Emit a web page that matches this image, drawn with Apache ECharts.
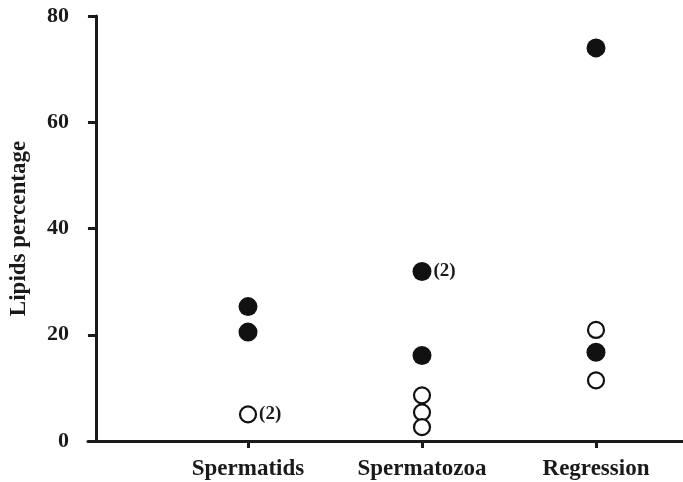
<!DOCTYPE html>
<html>
<head>
<meta charset="utf-8">
<script src="https://cdn.jsdelivr.net/npm/echarts@6/dist/echarts.min.js"></script>
<style>html,body{margin:0;padding:0;background:#fff}#c{width:683px;height:482px}</style>
</head>
<body>
<div id="c"></div>
<script>
const categories = ['Spermatids', 'Spermatozoa', 'Regression'];
const yTicks = [0, 20, 40, 60, 80];
// [category, lipids %, number of overlapping specimens]
const filledPoints = [
  ['Spermatids', 25.3, 1], ['Spermatids', 20.5, 1],
  ['Spermatozoa', 31.9, 2], ['Spermatozoa', 16.1, 1],
  ['Regression', 74.0, 1], ['Regression', 16.7, 1]
];
const openPoints = [
  ['Spermatids', 5.0, 2],
  ['Spermatozoa', 8.6, 1], ['Spermatozoa', 5.4, 1], ['Spermatozoa', 2.6, 1],
  ['Regression', 20.9, 1], ['Regression', 11.4, 1]
];
const yName = 'Lipids percentage';

const FONT = "'Liberation Serif','Times New Roman',serif";
const INK = '#1a1a1a';
const chart = echarts.init(document.getElementById('c'), null, {renderer: 'canvas'});
const lbl = {
  show: true, position: 'right', distance: 2,
  formatter: p => p.data[2] > 1 ? '(' + p.data[2] + ')' : '',
  color: INK, fontFamily: FONT, fontWeight: 'bold', fontSize: 19
};
chart.setOption({
  backgroundColor: '#fff',
  animation: false,
  grid: [
    {left: 85, right: 0, top: 16, bottom: 41},
    {left: 161, right: 0, top: 16, bottom: 41}
  ],
  xAxis: [
    {gridIndex: 0, type: 'value', min: -8, max: 590,
     axisLine: {show: true, lineStyle: {color: INK, width: 3}},
     axisTick: {show: false}, axisLabel: {show: false}, splitLine: {show: false}},
    {gridIndex: 1, type: 'category', data: categories, boundaryGap: true,
     axisLine: {show: false},
     axisTick: {show: true, alignWithLabel: true, length: 7, lineStyle: {color: INK, width: 3}},
     axisLabel: {margin: 17, color: INK, fontFamily: FONT, fontWeight: 'bold', fontSize: 23},
     splitLine: {show: false}}
  ],
  yAxis: [
    {gridIndex: 0, type: 'value', min: yTicks[0], max: yTicks[yTicks.length - 1], interval: 20,
     name: yName, nameLocation: 'middle', nameGap: 57, nameRotate: 90,
     nameTextStyle: {color: INK, fontFamily: FONT, fontWeight: 'bold', fontSize: 23},
     axisLine: {show: true, onZero: true, lineStyle: {color: INK, width: 3}},
     axisTick: {show: true, length: 8, lineStyle: {color: INK, width: 3}},
     axisLabel: {margin: 19, color: INK, fontFamily: FONT, fontWeight: 'bold', fontSize: 22},
     splitLine: {show: false}},
    {gridIndex: 1, type: 'value', min: yTicks[0], max: yTicks[yTicks.length - 1], show: false}
  ],
  series: [
    {type: 'scatter', name: 'filled', xAxisIndex: 1, yAxisIndex: 1,
     data: filledPoints, symbol: 'circle', symbolSize: 19,
     itemStyle: {color: '#111', opacity: 1}, label: lbl},
    {type: 'scatter', name: 'open', xAxisIndex: 1, yAxisIndex: 1,
     data: openPoints, symbol: 'circle', symbolSize: 16,
     itemStyle: {color: '#fff', borderColor: '#111', borderWidth: 2.2, opacity: 1}, label: lbl}
  ]
});
</script>
</body>
</html>
